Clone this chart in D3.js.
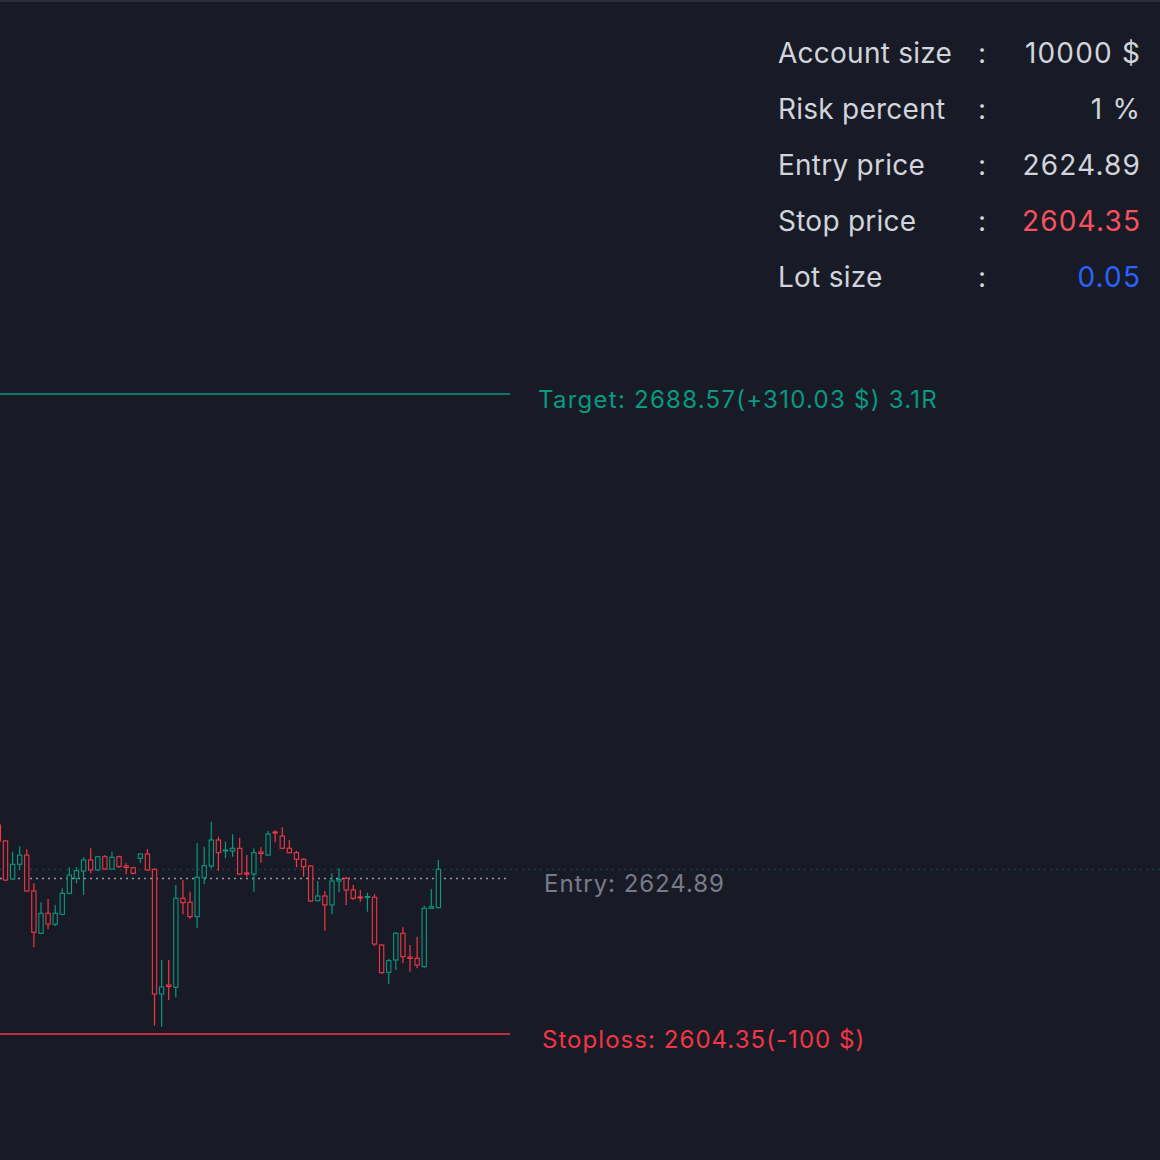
<!DOCTYPE html>
<html>
<head>
<meta charset="utf-8">
<script src="https://cdn.jsdelivr.net/npm/d3@7"></script>
<style>
  html, body { margin: 0; padding: 0; background: #181b26; }
  svg { display: block; }
  text { font-family: Inter, "Noto Sans", sans-serif; }
</style>
</head>
<body>
<svg id="chart" width="1160" height="1160"></svg>
<script>
// ---- data ----
const candleIndex = d3.range(63);
const opens  = [2631.85,2629.75,2624.75,2626.68,2627.90,2623.17,2617.60,2620.23,2618.79,2620.10,
                2622.86,2624.84,2625.80,2627.25,2625.93,2627.68,2626.06,2627.68,2626.46,2626.23,
                2627.47,2628.04,2626.02,2609.61,2610.80,2610.50,2622.21,2621.68,2619.79,2624.92,
                2626.46,2629.88,2628.43,2628.43,2628.79,2625.54,2625.40,2628.30,2627.90,2630.93,
                2630.40,2628.79,2628.21,2627.34,2626.46,2621.89,2622.51,2621.33,2624.48,2624.84,
                2623.30,2622.38,2622.31,2622.34,2616.06,2612.47,2614.09,2617.60,2614.48,2614.31,
                2613.21,2620.89,2620.97];
const highs  = [2632.12,2629.88,2628.34,2629.05,2628.65,2624.18,2621.68,2622.11,2621.33,2623.52,
                2626.29,2626.29,2627.60,2628.79,2627.81,2627.90,2628.34,2627.81,2626.81,2626.37,
                2628.10,2628.69,2626.15,2614.09,2614.09,2623.96,2624.61,2623.08,2629.44,2629.00,
                2632.29,2630.31,2629.66,2630.63,2630.18,2627.90,2628.79,2628.92,2631.06,2631.19,
                2631.55,2629.88,2628.47,2627.47,2626.59,2624.48,2623.17,2625.50,2626.15,2625.05,
                2623.96,2623.30,2622.94,2622.73,2616.15,2614.22,2617.73,2618.39,2616.06,2617.15,
                2621.23,2623.43,2627.25];
const lows   = [2629.62,2624.48,2624.61,2625.93,2623.08,2615.76,2617.47,2618.13,2618.56,2620.01,
                2622.77,2624.18,2622.64,2625.50,2625.80,2625.93,2626.02,2626.23,2625.36,2625.36,
                2626.89,2625.84,2605.44,2605.31,2608.82,2609.18,2620.10,2619.48,2618.26,2624.09,
                2626.15,2625.80,2627.47,2627.68,2625.27,2625.05,2623.08,2626.89,2627.81,2629.58,
                2628.69,2628.13,2626.29,2625.05,2621.76,2621.85,2617.94,2620.10,2623.00,2621.33,
                2621.98,2621.76,2620.44,2615.93,2612.28,2610.89,2612.77,2613.65,2612.55,2613.00,
                2613.07,2620.80,2620.89];
const closes = [2629.75,2624.61,2626.68,2627.90,2623.17,2617.73,2620.23,2618.82,2620.23,2622.86,
                2625.27,2625.84,2627.25,2625.93,2627.68,2626.06,2627.60,2626.37,2626.26,2625.50,
                2628.04,2625.93,2609.61,2610.53,2610.60,2622.21,2621.63,2619.79,2624.97,2626.50,
                2629.88,2628.21,2628.56,2628.79,2625.40,2625.40,2628.21,2628.10,2630.67,2630.80,
                2628.79,2628.21,2627.34,2626.37,2621.85,2622.51,2621.33,2624.48,2624.68,2623.30,
                2622.21,2622.25,2622.44,2616.19,2612.42,2614.00,2617.60,2614.52,2614.29,2613.43,
                2620.89,2621.10,2626.02];

const entryPrice = 2624.89;
const stopPrice = 2604.35;
const targetPrice = 2688.57;
const targetLabel = "Target: 2688.57(+310.03 $) 3.1R";
const entryLabel = "Entry: 2624.89";
const stopLabel = "Stoploss: 2604.35(-100 $)";

const tableLabels = ["Account size", "Risk percent", "Entry price", "Stop price", "Lot size"];
const tableValues = ["10000 $", "1 %", "2624.89", "2604.35", "0.05"];
const tableValueKinds = ["plain", "plain", "plain", "stop", "lot"];

// ---- styles ----
const BG = "#181b26";
const UP = "#089981";
const DOWN = "#f23645";
const TEXT = "#d1d4dc";
const colorOf = { plain: TEXT, stop: "#f7525f", lot: "#2962ff" };

const svg = d3.select("#chart");
svg.append("rect").attr("width", 1160).attr("height", 1160).attr("fill", BG);
svg.append("rect").attr("width", 1160).attr("height", 2).attr("fill", "#2a2e39");

const x = d3.scaleLinear().domain([0, candleIndex.length - 1]).range([-1.6, 438.4]);
const y = d3.scaleLinear().domain([stopPrice, targetPrice]).range([1034, 394]);
const lineEnd = 510;

const candles = candleIndex.map(i => ({
  i, o: opens[i], h: highs[i], l: lows[i], c: closes[i]
}));

// last price line (faint, full width)
const lastClose = closes[closes.length - 1];
svg.append("line")
  .attr("x1", 0).attr("x2", 1160)
  .attr("y1", Math.round(y(lastClose)) + 0.5).attr("y2", Math.round(y(lastClose)) + 0.5)
  .attr("stroke", UP).attr("stroke-opacity", 0.3)
  .attr("stroke-width", 1.5).attr("stroke-dasharray", "2,4");

// entry dotted line
svg.append("line")
  .attr("x1", 0).attr("x2", lineEnd)
  .attr("y1", Math.round(y(entryPrice)) + 0.5).attr("y2", Math.round(y(entryPrice)) + 0.5)
  .attr("stroke", "#9598a1").attr("stroke-width", 1.5).attr("stroke-dasharray", "2,4");

// target & stop lines
svg.append("line")
  .attr("x1", 0).attr("x2", lineEnd)
  .attr("y1", y(targetPrice)).attr("y2", y(targetPrice))
  .attr("stroke", UP).attr("stroke-width", 1.5);
svg.append("line")
  .attr("x1", 0).attr("x2", lineEnd)
  .attr("y1", y(stopPrice)).attr("y2", y(stopPrice))
  .attr("stroke", DOWN).attr("stroke-width", 1.5);

// candles
const g = svg.append("g");
const cg = g.selectAll("g.candle").data(candles).join("g").attr("class", "candle");
cg.append("line")
  .attr("x1", d => x(d.i)).attr("x2", d => x(d.i))
  .attr("y1", d => y(d.h)).attr("y2", d => y(d.l))
  .attr("stroke", d => d.c >= d.o ? UP : DOWN).attr("stroke-width", 1.2);
const bw = 4.3;
cg.append("rect")
  .attr("x", d => x(d.i) - bw / 2)
  .attr("width", bw)
  .attr("y", d => y(Math.max(d.o, d.c)))
  .attr("height", d => Math.max(0.3, Math.abs(y(d.o) - y(d.c))))
  .attr("fill", BG)
  .attr("stroke", d => d.c >= d.o ? UP : DOWN)
  .attr("stroke-width", 1.1);

// labels
svg.append("text").attr("x", 538).attr("y", y(targetPrice) + 14)
  .attr("fill", UP).attr("font-size", 24).attr("letter-spacing", 1.25).text(targetLabel);
svg.append("text").attr("x", 544).attr("y", y(entryPrice) + 14)
  .attr("fill", "#787b86").attr("font-size", 24).attr("letter-spacing", 0.95).text(entryLabel);
svg.append("text").attr("x", 542).attr("y", y(stopPrice) + 14)
  .attr("fill", DOWN).attr("font-size", 24).attr("letter-spacing", 1.05).text(stopLabel);

// info table
const rowY = d3.scalePoint().domain(tableLabels).range([62.5, 286.5]);
const rows = svg.append("g").selectAll("g").data(tableLabels).join("g")
  .attr("transform", d => `translate(0,${rowY(d)})`);
rows.append("text").attr("x", 778).attr("fill", TEXT).attr("font-size", 28)
  .attr("letter-spacing", 0.25).text(d => d);
rows.append("text").attr("x", 978).attr("fill", TEXT).attr("font-size", 28).text(":");
rows.append("text").attr("x", 1141.2).attr("text-anchor", "end")
  .attr("fill", (d, i) => colorOf[tableValueKinds[i]]).attr("font-size", 28)
  .attr("letter-spacing", 1.2)
  .text((d, i) => tableValues[i]);
</script>
</body>
</html>
